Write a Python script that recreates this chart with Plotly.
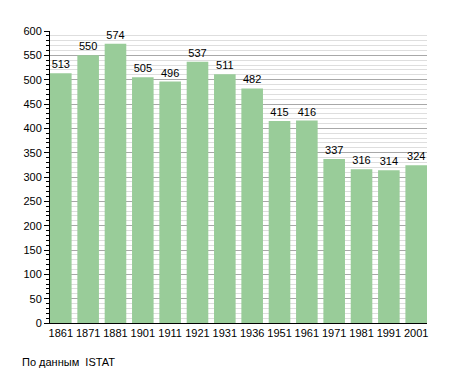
import plotly.graph_objects as go

years = ["1861", "1871", "1881", "1901", "1911", "1921", "1931", "1936",
         "1951", "1961", "1971", "1981", "1991", "2001"]
population = [513, 550, 574, 505, 496, 537, 511, 482, 415, 416, 337, 316, 314, 324]
y_ticks = list(range(0, 601, 50))

FONT = "Liberation Sans, Arial, sans-serif"

# page body adds an 8px offset, so the figure is sized to compensate
W, H = 447, 365
L, R, T, B = 42, 28, 23, 50
PW, PH = W - L - R, H - T - B

fig = go.Figure()
fig.add_trace(go.Bar(
    x=list(range(len(years))),
    y=population,
    width=0.79,
    marker=dict(color="rgb(153,204,153)", line=dict(width=0)),
    text=[str(v) for v in population],
    textposition="outside",
    textfont=dict(family=FONT, size=11, color="black"),
    cliponaxis=False,
))

fig.update_layout(
    width=W, height=H,
    margin=dict(l=L, r=R, t=T, b=B, autoexpand=False),
    paper_bgcolor="white", plot_bgcolor="white",
    showlegend=False,
    font=dict(family=FONT, size=11, color="black"),
    xaxis=dict(
        tickmode="array",
        tickvals=list(range(len(years))),
        ticktext=years,
        range=[-0.395, len(years) - 1 + 0.395],
        showgrid=False,
        showline=True, linecolor="black", linewidth=1,
        ticks="", zeroline=False,
        tickfont=dict(family=FONT, size=11, color="black"),
    ),
    yaxis=dict(
        range=[0, 600],
        tickvals=y_ticks,
        showgrid=True, gridcolor="#a8a8a8", gridwidth=1,
        showline=True, linecolor="black", linewidth=1,
        ticks="outside", ticklen=5, tickcolor="black",
        minor=dict(dtick=10, showgrid=True, gridcolor="#dedede", gridwidth=1,
                   ticks="outside", ticklen=3, tickcolor="black"),
        zeroline=False,
        tickfont=dict(family=FONT, size=11, color="black"),
    ),
)

fig.add_annotation(
    text="По данным  ISTAT", xref="paper", yref="paper",
    x=-30 / PW, y=-39 / PH, xanchor="left", yanchor="middle",
    showarrow=False, font=dict(family=FONT, size=11, color="black"),
)

fig.write_html("out.html")
